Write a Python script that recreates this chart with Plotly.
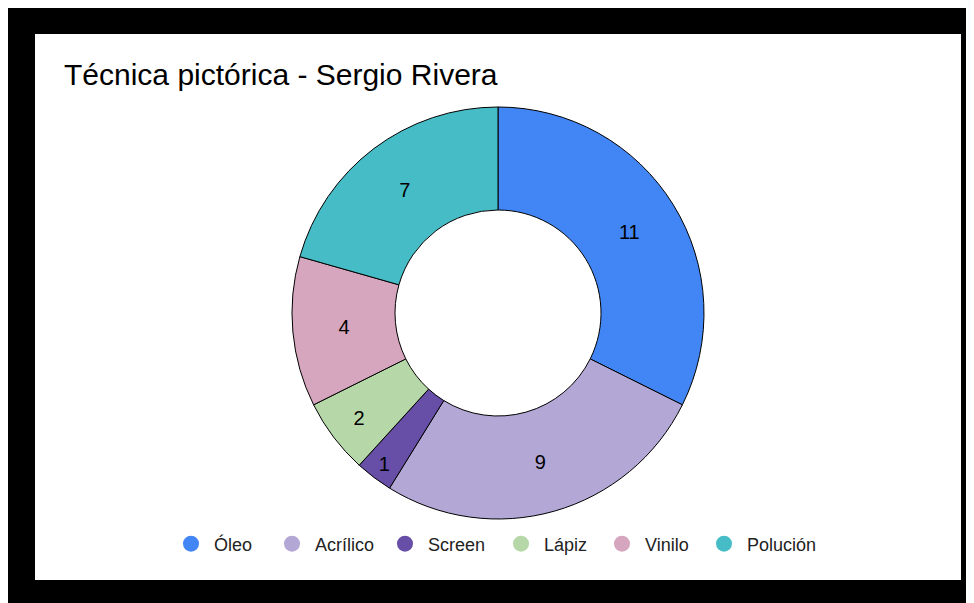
import plotly.graph_objects as go

labels = ["Óleo", "Acrílico", "Screen", "Lápiz", "Vinilo", "Polución"]
values = [11, 9, 1, 2, 4, 7]
colors = ["#4285f4", "#b3a7d6", "#674ea7", "#b6d7a8", "#d5a6bd", "#46bdc6"]
title_text = "Técnica pictórica - Sergio Rivera"

# legend symbol centres along the bottom row (screen px)
legend_centres = [191, 292, 405, 521, 622, 724]

OFF = 8  # page body margin
W, H = 974 - OFF, 603 - OFF
ml, mr, mt, mb = 35 - OFF, 13, 34 - OFF, 23
pw, ph = W - ml - mr, H - mt - mb

def px_x(p):
    return (p - OFF - ml) / pw

def px_y(p):
    return 1 - (p - OFF - mt) / ph

FONT = "Liberation Sans, Arial, sans-serif"
ITEMW = 36

fig = go.Figure()
fig.add_trace(go.Pie(
    labels=labels, values=values, hole=0.5, sort=False, direction="clockwise",
    rotation=0, marker=dict(colors=colors, line=dict(color="black", width=1)),
    textinfo="value", textposition="inside", insidetextorientation="horizontal",
    textfont=dict(family=FONT, size=20, color="black"),
    showlegend=False, domain=dict(x=[0, 1], y=[px_y(519), px_y(107)]),
    hoverinfo="label+value+percent",
))

legends = {}
for i, (lab, col) in enumerate(zip(labels, colors)):
    key = "legend" if i == 0 else f"legend{i + 1}"
    fig.add_trace(go.Scatter(
        x=[None], y=[None], mode="markers", name=lab, legend=key,
        marker=dict(color=col, size=18, symbol="circle"),
    ))
    legends[key] = dict(
        orientation="h", x=px_x(legend_centres[i] - (5 + ITEMW / 2)), xanchor="left",
        y=px_y(544), yanchor="middle", itemwidth=ITEMW,
        font=dict(family=FONT, size=18, color="#222222"),
        bgcolor="rgba(0,0,0,0)", borderwidth=0,
    )

fig.update_layout(
    width=W, height=H, autosize=False,
    paper_bgcolor="black", plot_bgcolor="rgba(0,0,0,0)",
    margin=dict(l=ml, r=mr, t=mt, b=mb),
    title=dict(text=title_text, x=(64 - OFF) / W, xanchor="left",
               y=1 - (74 - OFF) / H, yanchor="middle",
               font=dict(family=FONT, size=30, color="black")),
    xaxis=dict(visible=False), yaxis=dict(visible=False),
    shapes=[
        dict(type="rect", xref="paper", yref="paper", layer="below",
             x0=0, x1=1, y0=0, y1=1, fillcolor="white", line=dict(width=0)),
    ],
    **legends,
)
fig.write_html("out.html")
